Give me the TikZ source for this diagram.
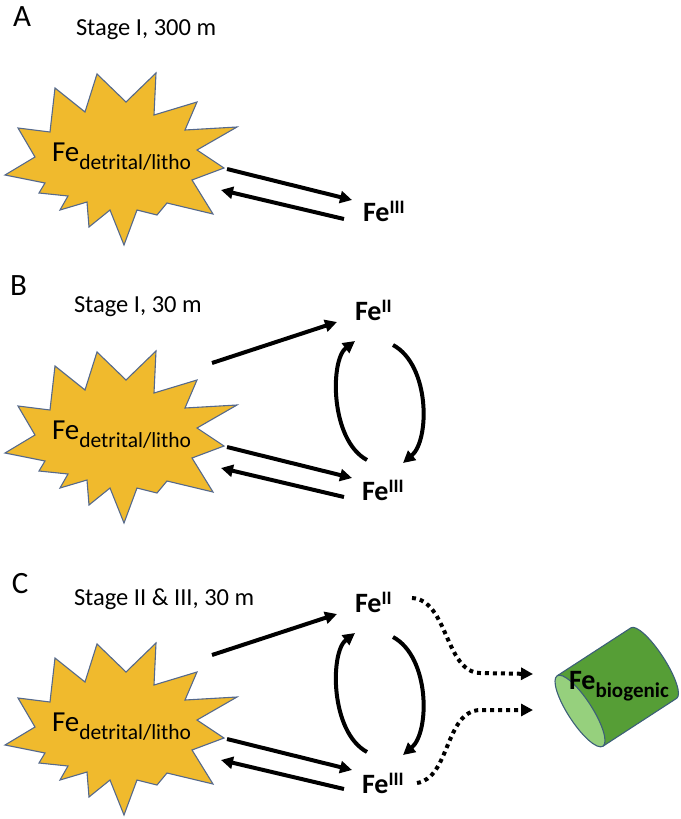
\documentclass[tikz,border=0pt]{standalone}
\usepackage{fontspec}
\setmainfont{Carlito}
\usetikzlibrary{arrows.meta}
\definecolor{stargold}{RGB}{240,186,45}
\definecolor{starline}{RGB}{85,105,140}
\definecolor{cyldark}{RGB}{86,158,54}
\definecolor{cyllight}{RGB}{150,208,125}
\definecolor{cylline}{RGB}{60,95,120}
\newcommand{\myFeDet}{{\fontsize{29}{31}\selectfont Fe}\raisebox{-8pt}{\fontsize{21.5}{23}\selectfont detrital/litho}}
\newcommand{\myFeTwo}{{\bfseries\fontsize{28}{30}\selectfont Fe\raisebox{8pt}{\fontsize{19}{21}\selectfont II}}}
\newcommand{\myFeThree}{{\bfseries\fontsize{28}{30}\selectfont Fe\raisebox{8pt}{\fontsize{19}{21}\selectfont III}}}
\newcommand{\myFeBio}{{\bfseries\fontsize{28}{30}\selectfont Fe\raisebox{-8pt}{\fontsize{21}{22}\selectfont biogenic}}}
\newcommand{\mybasepanel}{%
  \draw[starshape] (55,88) -- (85,112) -- (97,74) -- (126,102) -- (156,73) -- (154,115)
    -- (197,102) -- (185,130) -- (237,127) -- (197,150) -- (224,168) -- (192,180)
    -- (213,214) -- (167,203) -- (157,215) -- (137,210) -- (124,245) -- (110,210)
    -- (89,227) -- (87,202) -- (60,210) -- (68,196) -- (39,193) -- (45,183)
    -- (5,175) -- (35,157) -- (18,128) -- (50,132) -- cycle;
  \node[txt] (det) at (52,161) {\myFeDet};
  \coordinate (o1) at (227,169);
  \coordinate (o1e) at (352,200);
  \coordinate (r1) at (344,219);
  \coordinate (r1e) at (221,190);
  \draw[flow] (o1) -- (o1e);
  \draw[flow] (r1) -- (r1e);
}
\newcommand{\mycycle}{%
  \node[txt] (f2) at (355,42) {\myFeTwo};
  \coordinate (u1) at (212,85);
  \coordinate (u1e) at (337,44);
  \coordinate (cl) at (367,182);
  \coordinate (cle) at (355,63);
  \coordinate (cr) at (393,67);
  \coordinate (cre) at (403,185);
  \draw[flow] (cl) .. controls (330,162) and (330,82) .. (cle);
  \draw[flow] (cr) .. controls (430,87) and (430,162) .. (cre);
  \draw[flow] (u1) -- (u1e);
}
\begin{document}
\begin{tikzpicture}[x=1pt,y=-1pt,
  starshape/.style={fill=stargold, draw=starline, line width=1.1pt, line join=miter},
  txt/.style={anchor=base west, inner sep=0pt, outer sep=0pt},
  flow/.style={line width=4pt, -{Triangle[length=12pt,width=12pt]}},
  dotflow/.style={line width=4pt, dash pattern=on 4pt off 4pt, -{Triangle[length=12pt,width=12pt]}},
  panellabel/.style={txt, font=\fontsize{31}{33}\selectfont},
  stagelabel/.style={txt, font=\fontsize{24.5}{26}\selectfont}]
\useasboundingbox (0,0) rectangle (680,819);
% Panel A
\node[panellabel] (labA) at (13,26) {A};
\node[stagelabel] (stA) at (76,35) {Stage I, 300 m};
\begin{scope}[name prefix=A-]
  \mybasepanel
  \node[txt] (f3) at (363,221) {\myFeThree};
\end{scope}
% Panel B
\node[panellabel] (labB) at (10,295) {B};
\node[stagelabel] (stB) at (74,312) {Stage I, 30 m};
\begin{scope}[shift={(0,278)}, name prefix=B-]
  \mybasepanel
  \node[txt] (f3) at (362,222) {\myFeThree};
  \mycycle
\end{scope}
% Panel C
\node[panellabel] (labC) at (12,593) {C};
\node[stagelabel] (stC) at (74,605) {Stage II \& III, 30 m};
\begin{scope}[shift={(0,570)}, name prefix=C-]
  \mybasepanel
  \node[txt] (f3) at (362,223) {\myFeThree};
  \mycycle
\end{scope}
% biogenic cylinder
\begin{scope}[shift={(580,711)}, rotate=33]
  \fill[cyldark] (0,-42) -- (88,-42) arc[start angle=-90, end angle=90, x radius=11, y radius=42] -- (0,42) -- cycle;
  \draw[cylline, line width=1.1pt] (0,-42) -- (88,-42) arc[start angle=-90, end angle=90, x radius=11, y radius=42] -- (0,42);
  \draw[cylline, line width=1.1pt, fill=cyllight] (0,0) ellipse[x radius=12, y radius=42];
\end{scope}
\node[txt] (bio) at (569,689) {\myFeBio};
% dotted arrows
\coordinate (d1) at (412,598);
\coordinate (d1e) at (533,674);
\coordinate (d2) at (417,783);
\coordinate (d2e) at (533,710);
\draw[dotflow] (d1) .. controls (448,600) and (445,672) .. (480,673) -- (d1e);
\draw[dotflow] (d2) .. controls (450,778) and (445,711) .. (480,710) -- (d2e);
\end{tikzpicture}
\end{document}
